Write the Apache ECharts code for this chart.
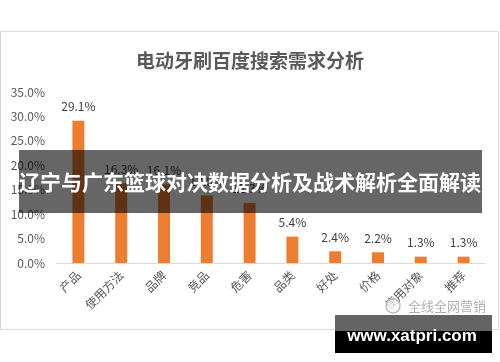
<!DOCTYPE html>
<html>
<head>
<meta charset="utf-8">
<script src="https://cdn.jsdelivr.net/npm/echarts@6/dist/echarts.min.js"></script>
<style>html,body{margin:0;padding:0;background:#fff;}#c{width:500px;height:362px;}</style>
</head>
<body>
<div id="c"></div>
<script>
const categories = ['产品','使用方法','品牌','竞品','危害','品类','好处','价格','使用对象','推荐'];
const values = [29.1, 16.3, 16.1, 13.8, 12.3, 5.4, 2.4, 2.2, 1.3, 1.3];
const yTicks = [0, 5, 10, 15, 20, 25, 30, 35];
const chartTitle = '电动牙刷百度搜索需求分析';
const bannerText = '辽宁与广东篮球对决数据分析及战术解析全面解读';
const siteText = 'www.xatpri.com';
const logoText = '全线全网营销';

const FONT = '"Noto Sans CJK SC", "Noto Sans", sans-serif';
const chart = echarts.init(document.getElementById('c'), null, {renderer:'canvas'});
chart.setOption({
  backgroundColor: '#fff',
  animation: false,
  textStyle: {fontFamily: FONT},
  title: {
    text: chartTitle, left: 'center', top: 46,
    textStyle: {fontSize: 19, fontWeight: 'bold', color: '#595959', fontFamily: FONT}
  },
  grid: {left: 57, right: 15, top: 92, bottom: 99},
  xAxis: {
    type: 'category', data: categories,
    axisLine: {lineStyle: {color: '#d9d9d9'}},
    axisTick: {show: false},
    axisLabel: {rotate: 45, color: '#595959', fontSize: 12, margin: 10, interval: 0, fontFamily: FONT}
  },
  yAxis: {
    type: 'value', min: yTicks[0], max: yTicks[yTicks.length-1], interval: 5,
    splitLine: {show: false},
    axisLine: {show: false}, axisTick: {show: false},
    axisLabel: {color: '#595959', fontSize: 12, margin: 12, formatter: v => v.toFixed(1) + '%', fontFamily: FONT}
  },
  series: [{
    type: 'bar', data: values, barWidth: 12,
    itemStyle: {color: '#ED7D31'},
    label: {show: true, position: 'top', distance: 8, color: '#404040', fontSize: 12, formatter: p => p.value.toFixed(1) + '%', fontFamily: FONT}
  }],
  graphic: [
    {type: 'rect', shape: {x: 0.5, y: 31.5, width: 498, height: 298}, style: {fill: 'none', stroke: '#d9d9d9', lineWidth: 1}, z: 100},
    {type: 'rect', shape: {x: 19, y: 150, width: 463, height: 63}, style: {fill: 'rgba(0,0,0,0.6)'}, z: 200},
    {type: 'text', x: 250, y: 182, style: {text: bannerText, fill: '#fff', font: 'bold 21px ' + FONT, textAlign: 'center', textVerticalAlign: 'middle'}, z: 201},
    {type: 'circle', shape: {cx: 393, cy: 306, r: 7}, style: {fill: 'rgba(255,255,255,0.7)', stroke: '#bdbdbd', lineWidth: 1.5}, z: 150},
    {type: 'text', x: 408, y: 306, style: {text: logoText, fill: '#b0b0b0', font: '13px ' + FONT, textAlign: 'left', textVerticalAlign: 'middle'}, z: 150},
    {type: 'rect', shape: {x: 335, y: 315, width: 157, height: 16}, style: {fill: '#646464'}, z: 200},
    {type: 'rect', shape: {x: 335, y: 331, width: 157, height: 22}, style: {fill: '#000'}, z: 200},
    {type: 'text', x: 412, y: 336, style: {text: siteText, fill: '#fff', font: 'bold 17px "Liberation Sans", sans-serif', textAlign: 'center', textVerticalAlign: 'middle'}, z: 201}
  ]
});
</script>
</body>
</html>
